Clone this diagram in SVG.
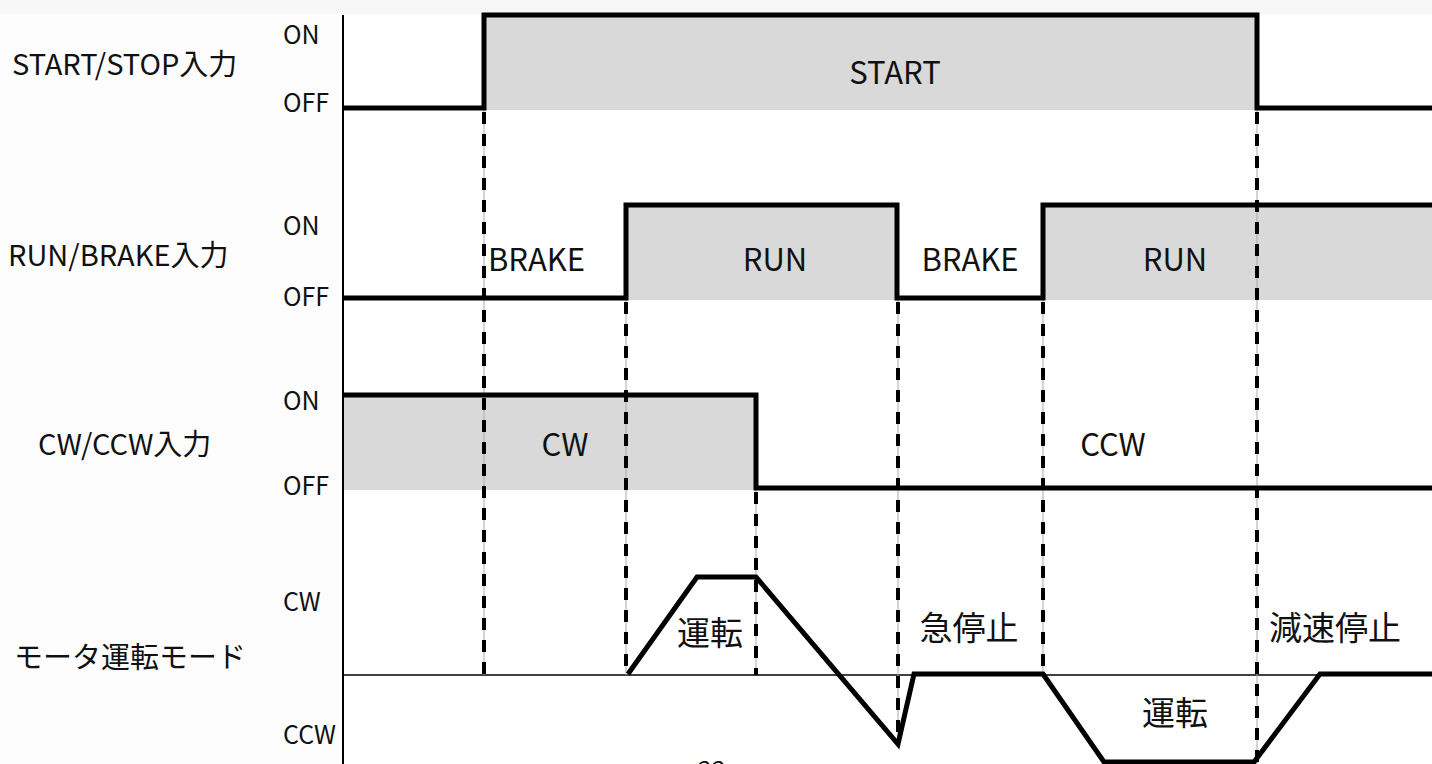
<svg xmlns="http://www.w3.org/2000/svg" width="1432" height="764" viewBox="0 0 1432 764">
<style>
.lbl{font-family:"Noto Sans CJK JP","Noto Sans",sans-serif;font-size:29px;fill:#111}
.st{font-family:"Noto Sans CJK JP","Noto Sans",sans-serif;font-size:31px;fill:#111}
.jp{font-family:"Noto Sans CJK JP","Noto Sans",sans-serif;font-size:33px;fill:#111}
.lv{font-family:"Noto Sans CJK JP","Noto Sans",sans-serif;font-size:25px;fill:#111}
.mid{text-anchor:middle}
.sig{fill:none;stroke:#000;stroke-width:5;stroke-linejoin:miter}
.fill{fill:#d9d9d9}
.guide{stroke:#aaa;stroke-width:1}
.dash{stroke:#000;stroke-width:4;stroke-dasharray:12 10}
</style>
<rect x="0" y="0" width="1432" height="764" fill="#fdfdfd"/>
<rect x="0" y="0" width="1432" height="14" fill="#f7f7f7"/>
<rect x="343" y="14" width="1089" height="750" fill="#fff"/>

<g id="fills">
<rect class="fill" x="484" y="15" width="773" height="95"/>
<rect class="fill" x="626" y="205" width="271" height="95"/>
<rect class="fill" x="1043" y="205" width="389" height="95"/>
<rect class="fill" x="343" y="395" width="413" height="95"/>
</g>

<g id="axis">
<line x1="343" y1="15" x2="343" y2="764" stroke="#000" stroke-width="2"/>
<line x1="343" y1="675" x2="1432" y2="675" stroke="#000" stroke-width="1.5"/>
</g>

<g id="connectors">
<g id="guides">
<line class="guide" x1="484" y1="108" x2="484" y2="675"/>
<line class="dash" x1="484" y1="112" x2="484" y2="675"/>
<line class="guide" x1="626" y1="298" x2="626" y2="675"/>
<line class="dash" x1="626" y1="302" x2="626" y2="675"/>
<line class="guide" x1="756" y1="488" x2="756" y2="675"/>
<line class="dash" x1="756" y1="492" x2="756" y2="675"/>
<line class="guide" x1="898" y1="298" x2="898" y2="745"/>
<line class="dash" x1="898" y1="302" x2="898" y2="745"/>
<line class="guide" x1="1043" y1="298" x2="1043" y2="675"/>
<line class="dash" x1="1043" y1="302" x2="1043" y2="675"/>
<line class="guide" x1="1257" y1="108" x2="1257" y2="764"/>
<line class="dash" x1="1257" y1="112" x2="1257" y2="764"/>
</g>
<polyline id="sig-start" class="sig" points="343,108 484,108 484,15 1257,15 1257,108 1432,108"/>
<polyline id="sig-run" class="sig" points="343,298 626,298 626,205 897,205 897,298 1043,298 1043,205 1432,205"/>
<polyline id="sig-cw" class="sig" points="343,395 756,395 756,488 1432,488"/>
<polyline id="sig-mode" class="sig" points="628,674 697,577 756,577 898,744 914,674 1043,674 1104,762 1254,762 1320,674 1432,674"/>
</g>

<g id="row-labels">
<text class="lbl" x="12" y="75">START/STOP入力</text>
<text class="lbl" x="8" y="266">RUN/BRAKE入力</text>
<text class="lbl" x="38" y="455">CW/CCW入力</text>
<text class="lbl" x="14" y="668">モータ運転モード</text>
</g>

<g id="level-labels">
<text class="lv" x="283" y="44">ON</text>
<text class="lv" x="283" y="112">OFF</text>
<text class="lv" x="283" y="235">ON</text>
<text class="lv" x="283" y="306">OFF</text>
<text class="lv" x="283" y="410">ON</text>
<text class="lv" x="283" y="495">OFF</text>
<text class="lv" x="283" y="611">CW</text>
<text class="lv" x="283" y="744">CCW</text>
</g>

<g id="state-labels">
<text class="st mid" x="895" y="84">START</text>
<text class="st" x="488" y="271">BRAKE</text>
<text class="st mid" x="775" y="271">RUN</text>
<text class="st mid" x="970" y="271">BRAKE</text>
<text class="st mid" x="1175" y="271">RUN</text>
<text class="st mid" x="565" y="456">CW</text>
<text class="st mid" x="1113" y="456">CCW</text>
<text class="jp mid" x="710" y="645">運転</text>
<text class="jp mid" x="969" y="640">急停止</text>
<text class="jp mid" x="1335" y="640">減速停止</text>
<text class="jp mid" x="1175" y="725">運転</text>
<text class="lv mid" x="712" y="779">22</text>
</g>
</svg>
